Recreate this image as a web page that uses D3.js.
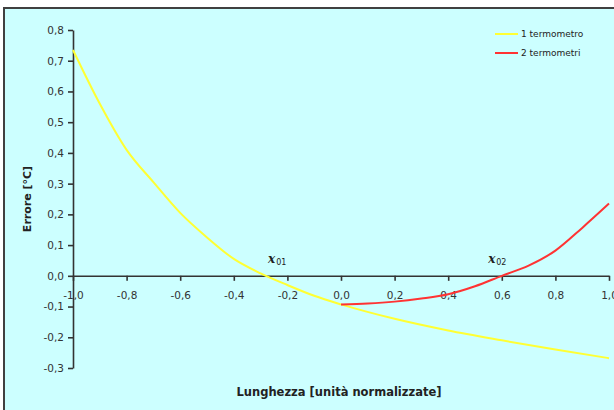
<!DOCTYPE html>
<html><head><meta charset="utf-8">
<script src="https://cdn.jsdelivr.net/npm/d3@7/dist/d3.min.js"></script>
<style>html,body{margin:0;padding:0;background:#fff;}svg{display:block;}</style>
</head><body>
<script>
// Data
const xTicks = [-1.0,-0.8,-0.6,-0.4,-0.2,0.0,0.2,0.4,0.6,0.8,1.0];
const yTicks = [-0.3,-0.2,-0.1,0.0,0.1,0.2,0.3,0.4,0.5,0.6,0.7,0.8];
const series1X = [-1.0,-0.9,-0.8,-0.7,-0.6,-0.5,-0.4,-0.3,-0.2,-0.1,0.0,0.2,0.4,0.6,0.8,1.0];
const series1Y = [0.735,0.56,0.41,0.305,0.205,0.125,0.055,0.008,-0.03,-0.065,-0.093,-0.14,-0.178,-0.21,-0.24,-0.268];
const series2X = [0.0,0.1,0.2,0.3,0.4,0.5,0.6,0.7,0.8,0.9,1.0];
const series2Y = [-0.093,-0.09,-0.084,-0.074,-0.06,-0.034,0.0,0.033,0.082,0.156,0.235];
const seriesNames = ["1 termometro","2 termometri"];
const seriesColors = ["#ffff33","#ff3333"];
const annotations = [{x:-0.272, label:"01"},{x:0.549, label:"02"}];

const W=614,H=410;
const svg=d3.select("body").append("svg").attr("width",W).attr("height",H);
// chart area
svg.append("rect").attr("x",4).attr("y",8).attr("width",W+10).attr("height",H+10)
  .attr("fill","#ccffff").attr("stroke","#404040").attr("stroke-width",2);

const x=d3.scaleLinear().domain([-1,1]).range([73,609]);
const y=d3.scaleLinear().domain([-0.3,0.8]).range([368,30]);
const fmt=v=>{const r=Math.round(v*10)/10; return (Math.abs(r)<1e-9?"0.0":r.toFixed(1)).replace(".",",");};
const font="'DejaVu Sans', Verdana, sans-serif";

const yAx=svg.append("g").attr("transform","translate(73,0)")
  .call(d3.axisLeft(y).tickValues(yTicks).tickFormat(fmt).tickSize(5).tickSizeOuter(0).tickPadding(4));
const xAx=svg.append("g").attr("transform",`translate(0,${y(0)})`)
  .call(d3.axisBottom(x).tickValues(xTicks).tickFormat(fmt).tickSize(5).tickSizeOuter(0).tickPadding(11));
[yAx,xAx].forEach(g=>{
  g.select(".domain").attr("stroke","#333").attr("stroke-width",1.6);
  g.selectAll(".tick line").attr("stroke","#333").attr("stroke-width",1.6);
  g.selectAll(".tick text").attr("fill","#333").style("font-family",font).style("font-size","10.5px");
});

const line=d3.line().x(d=>x(d[0])).y(d=>y(d[1])).curve(d3.curveMonotoneX);
const d1=series1X.map((v,i)=>[v,series1Y[i]]);
const d2=series2X.map((v,i)=>[v,series2Y[i]]);
svg.append("path").attr("d",line(d1)).attr("fill","none").attr("stroke",seriesColors[0]).attr("stroke-width",2);
svg.append("path").attr("d",line(d2)).attr("fill","none").attr("stroke",seriesColors[1]).attr("stroke-width",2);

// annotations
annotations.forEach(a=>{
  const t=svg.append("text").attr("x",x(a.x)).attr("y",263).style("font-family","'DejaVu Serif', serif").attr("fill","#222");
  t.append("tspan").text("x").style("font-style","italic").style("font-weight","bold").style("font-size","12px");
  t.append("tspan").text(a.label).style("font-size","8px").attr("dy",2).attr("dx",1).style("font-family",font);
});

// axis titles
svg.append("text").attr("transform","translate(31,199) rotate(-90)").attr("text-anchor","middle")
  .style("font-family",font).style("font-weight","bold").style("font-size","11px").attr("fill","#222").text("Errore [°C]");
svg.append("text").attr("x",339).attr("y",396).attr("text-anchor","middle")
  .style("font-family",font).style("font-weight","bold").style("font-size","11.5px").attr("fill","#222").text("Lunghezza [unità normalizzate]");

// legend
seriesNames.forEach((n,i)=>{
  const ly=34+i*19;
  svg.append("line").attr("x1",495).attr("x2",518).attr("y1",ly).attr("y2",ly).attr("stroke",seriesColors[i]).attr("stroke-width",2);
  svg.append("text").attr("x",521).attr("y",ly+3).style("font-family",font).style("font-size","9px").attr("fill","#222").text(n);
});
</script>
</body></html>
